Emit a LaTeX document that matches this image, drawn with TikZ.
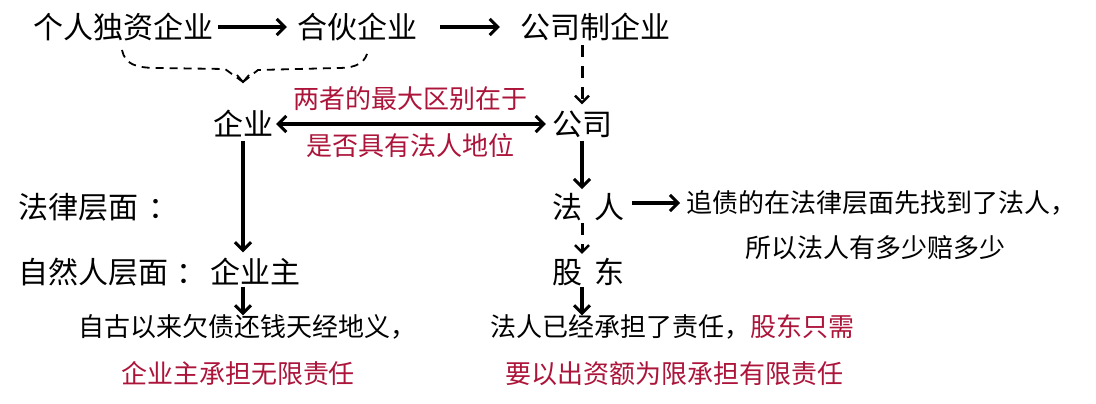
\documentclass[tikz,border=0pt]{standalone}
\usepackage{fontspec}
\setmainfont{Noto Sans CJK SC}
\usetikzlibrary{arrows.meta}
\definecolor{cr}{RGB}{172,20,58}
\tikzset{
  big/.style={inner sep=0pt, font=\fontsize{30pt}{32pt}\selectfont},
  small/.style={inner sep=0pt, font=\fontsize{26pt}{28pt}\selectfont},
  redtxt/.style={small, text=cr},
  arr/.style={line width=3.2pt, -{Straight Barb[length=8pt,width=16pt,line width=3pt]}},
  darr/.style={line width=3.2pt, {Straight Barb[length=8pt,width=16pt,line width=3pt]}-{Straight Barb[length=8pt,width=16pt,line width=3pt]}},
  dashedarr/.style={line width=3pt, dash pattern=on 12pt off 9pt, -{Straight Barb[length=7pt,width=14pt,line width=2.5pt]}},
  bracestyle/.style={line width=1.8pt, dash pattern=on 8pt off 6pt},
}
\begin{document}
\begin{tikzpicture}[x=1pt,y=-1pt]
\useasboundingbox (0,0) rectangle (1096,404);
% row 1
\node[big] (n1) at (124,27) {个人独资企业};
\node[big] (n2) at (357,27) {合伙企业};
\node[big] (n3) at (595,27) {公司制企业};
\draw[arr] ([xshift=4pt]n1.east) -- ([xshift=-10pt]n2.west);
\draw[arr] ([xshift=23pt]n2.east) -- ([xshift=-20pt]n3.west);
% row 2
\node[big] (qiye) at (243,124) {企业};
\node[big] (gongsi) at (582,124) {公司};
\node[redtxt] (r1) at (410,99) {两者的最大区别在于};
\node[redtxt] (r2) at (410,146) {是否具有法人地位};
\draw[darr] ([xshift=3pt]qiye.east) -- ([xshift=-6pt]gongsi.west);
% brace
\coordinate (bl) at (122,50);
\coordinate (br) at (368,50);
\coordinate (bt) at (243,82);
\draw[bracestyle] (bl) .. controls (125,64) and (135,68) .. (158,68) -- (225,69) -- (bt);
\draw[bracestyle] (bt) -- (258,70) -- (338,68) .. controls (358,68) and (366,62) .. (br);
\draw[line width=1.8pt] (237,75) -- (bt) -- (249,75);
% dashed from 公司制企业
\draw[dashedarr] ([yshift=-4pt]n3.south -| gongsi.north) -- ([yshift=6pt]gongsi.north);
% left column
\node[big, anchor=west] (fl) at (18,207) {法律层面\hspace{10pt}：};
\node[big, anchor=west] (zr) at (18,272) {自然人层面\hspace{8pt}：};
\node[big] (zyz) at (255,272) {企业主};
\draw[arr] ([yshift=-3pt]qiye.south) -- ([yshift=6pt]qiye.south |- zyz.north);
\node[small] (t1) at (247,327) {自古以来欠债还钱天经地义，};
\node[redtxt] (t2) at (238,374) {企业主承担无限责任};
\draw[arr] ([yshift=-1pt]zyz.south -| qiye.south) -- ([yshift=-1pt]qiye.south |- t1.north);
% right column
\node[big, anchor=west] (faren) at (552,207) {法\hspace{12pt}人};
\node[big, anchor=west] (gudong) at (552,272) {股\hspace{12pt}东};
\draw[arr] ([yshift=-3pt]gongsi.south) -- ([yshift=4pt]gongsi.south |- faren.north);
\node[small, anchor=west] (t3) at (686,203) {追债的在法律层面先找到了法人，};
\node[small, anchor=west] (t4) at (745,248) {所以法人有多少赔多少};
\draw[arr] ([xshift=8pt]faren.east |- t3.west) -- ([xshift=-6pt]t3.west);
\draw[dashedarr] ([yshift=-2pt]gongsi.south |- faren.south) -- ([yshift=4pt]gongsi.south |- gudong.north);
\node[small, anchor=west] (t5) at (490,327) {法人已经承担了责任，\textcolor{cr}{股东只需}};
\node[redtxt, anchor=west] (t6) at (505,374) {要以出资额为限承担有限责任};
\draw[arr] ([yshift=-1pt]gongsi.south |- gudong.south) -- ([yshift=-1pt]gongsi.south |- t5.north);
\end{tikzpicture}
\end{document}
